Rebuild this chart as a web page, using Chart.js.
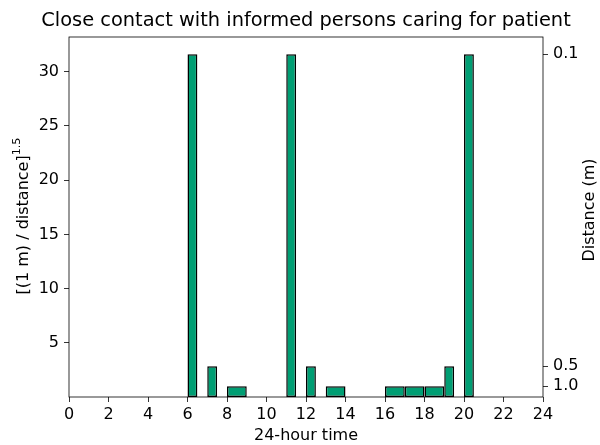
<!DOCTYPE html>
<html>
<head>
<meta charset="utf-8">
<script src="https://cdn.jsdelivr.net/npm/chart.js@4/dist/chart.umd.min.js"></script>
<style>
body { margin: 0; background: #fff; }
</style>
</head>
<body>
<canvas id="myChart" width="600" height="445"></canvas>
<script>
// bar start hour, bar width (hours) and height [(1 m)/distance]^1.5
var inicios = [6, 7, 8, 11, 12, 13, 16, 17, 18, 19, 20];
var anchos = [0.5, 0.5, 1, 0.5, 0.5, 1, 1, 1, 1, 0.5, 0.5];
var valores = [31.62, 2.83, 1, 31.62, 2.83, 1, 1, 1, 1, 2.83, 31.62];
var ticksIzq = [5, 10, 15, 20, 25, 30];
var distancias = [0.1, 0.5, 1.0];
var ticksX = [0, 2, 4, 6, 8, 10, 12, 14, 16, 18, 20, 22, 24];

var titulo = 'Close contact with informed persons caring for patient';
var verde = '#009E73';
var fuente = 'DejaVu Sans';
var tam = 16;
var yMax = Math.max.apply(null, valores) * 1.05;

// chart.js sizes bars from the smallest gap between bar centres (and ticks)
var centros = inicios.map(function (s, i) { return s + anchos[i] / 2; });
var orden = centros.slice().sort(function (a, b) { return a - b; });
var minGap = ticksX[1] - ticksX[0];
for (var i = 1; i < orden.length; i++) {
	var d = orden[i] - orden[i - 1];
	if (d > 0 && d < minGap) minGap = d;
}

var grupos = {};
inicios.forEach(function (s, i) {
	var w = anchos[i];
	if (!grupos[w]) grupos[w] = [];
	grupos[w].push({ x: centros[i], y: valores[i] });
});
var datasets = Object.keys(grupos).map(function (w) {
	return {
		data: grupos[w],
		backgroundColor: verde,
		borderColor: '#000',
		borderWidth: 1.5,
		borderSkipped: false,
		grouped: false,
		categoryPercentage: 1,
		barPercentage: parseFloat(w) / minGap
	};
});

var ejeTicks = { color: '#000', font: { family: fuente, size: tam }, padding: 5 };
var ejeGrid = { display: true, offset: false, drawOnChartArea: false, drawTicks: true, tickLength: 5, tickWidth: 0.8, color: '#000' };

var marco = {
	id: 'marco',
	afterDraw: function (chart) {
		var ctx = chart.ctx, a = chart.chartArea;
		ctx.save();
		ctx.strokeStyle = '#000';
		ctx.lineWidth = 0.8;
		ctx.strokeRect(a.left, a.top, a.right - a.left, a.bottom - a.top);
		ctx.fillStyle = '#000';
		ctx.textBaseline = 'middle';
		// title
		ctx.font = '19.4px "' + fuente + '"';
		ctx.textAlign = 'center';
		ctx.fillText(titulo, (a.left + a.right) / 2, 21);
		// left label with superscript
		ctx.save();
		ctx.translate(24, 216);
		ctx.rotate(-Math.PI / 2);
		ctx.font = tam + 'px "' + fuente + '"';
		var t1 = '[(1 m) / distance]';
		var w1 = ctx.measureText(t1).width;
		ctx.font = (tam * 0.7) + 'px "' + fuente + '"';
		var t2 = '1.5';
		var w2 = ctx.measureText(t2).width;
		var x0 = -(w1 + w2) / 2;
		ctx.font = tam + 'px "' + fuente + '"';
		ctx.textAlign = 'left';
		ctx.fillText(t1, x0, 0);
		ctx.font = (tam * 0.7) + 'px "' + fuente + '"';
		ctx.fillText(t2, x0 + w1, -7);
		ctx.restore();
		// right label
		ctx.save();
		ctx.translate(590, 210);
		ctx.rotate(-Math.PI / 2);
		ctx.font = tam + 'px "' + fuente + '"';
		ctx.textAlign = 'center';
		ctx.fillText('Distance (m)', 0, 0);
		ctx.restore();
		ctx.restore();
	}
};

var config = {
	type: 'bar',
	data: { datasets: datasets },
	options: {
		responsive: false,
		animation: false,
		layout: { padding: { top: 37 } },
		plugins: {
			legend: { display: false },
			tooltip: { enabled: false },
			title: { display: false }
		},
		scales: {
			x: {
				type: 'linear',
				min: 0,
				max: 24,
				offset: false,
				afterBuildTicks: function (s) { s.ticks = ticksX.map(function (v) { return { value: v }; }); },
				afterFit: function (s) { s.height = 48; },
				ticks: Object.assign({}, ejeTicks, { maxRotation: 0, padding: 3 }),
				grid: ejeGrid,
				border: { display: false },
				title: {
					display: true,
					text: '24-hour time',
					color: '#000',
					font: { family: fuente, size: tam },
					padding: { top: 0, bottom: 0 }
				}
			},
			y: {
				position: 'left',
				min: 0,
				max: yMax,
				afterBuildTicks: function (s) { s.ticks = ticksIzq.map(function (v) { return { value: v }; }); },
				afterFit: function (s) { s.width = 69; },
				ticks: ejeTicks,
				grid: ejeGrid,
				border: { display: false }
			},
			y2: {
				position: 'right',
				min: 0,
				max: yMax,
				afterBuildTicks: function (s) {
					s.ticks = distancias.map(function (d) { return { value: Math.pow(1 / d, 1.5) }; });
				},
				afterFit: function (s) { s.width = 57; },
				ticks: Object.assign({}, ejeTicks, {
					callback: function (v, idx) { return distancias[idx].toFixed(1); }
				}),
				grid: ejeGrid,
				border: { display: false }
			}
		}
	},
	plugins: [marco]
};

var myChart = new Chart(document.getElementById('myChart'), config);
</script>
</body>
</html>
